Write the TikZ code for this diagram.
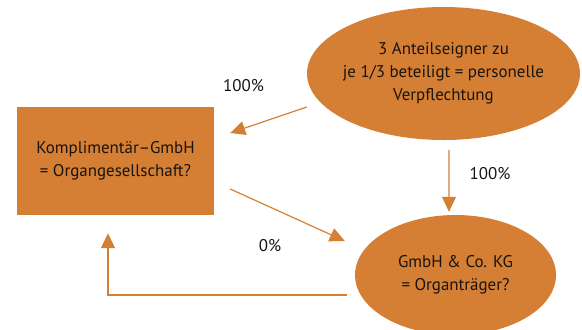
\documentclass[tikz,border=0pt]{standalone}
\usepackage{fontspec}
\setmainfont{PT Sans}
\usetikzlibrary{shapes.geometric,arrows.meta,calc}
\definecolor{org}{RGB}{213,127,53}
\definecolor{txt}{RGB}{25,20,15}
\begin{document}
\begin{tikzpicture}[x=1bp,y=-1bp,
  box/.style={fill=org,draw=none,align=center,text=txt,font=\fontsize{17}{23}\selectfont,inner sep=0pt},
  oval/.style={ellipse,fill=org,draw=none,inner sep=0pt},
  otext/.style={align=center,text=txt,font=\fontsize{17}{23}\selectfont,inner sep=0pt},
  arr/.style={draw=org,line width=1.2bp,-{Triangle[length=15bp,width=14bp]}},
  lbl/.style={text=txt,font=\fontsize{17}{20}\selectfont,inner sep=0pt}]
\useasboundingbox (0,0) rectangle (582,329);
\node[box,minimum width=197bp,minimum height=108bp] (rect) at (115.5,161) {Komplimentär–GmbH\\= Organgesellschaft?};
\node[oval,minimum width=273bp,minimum height=133bp] (top) at (443.5,73.5) {};
\node[otext] (toptext) at (top.center) {3 Anteilseigner zu\\je 1/3 beteiligt = personelle\\Verpflechtung};
\node[oval,minimum width=201bp,minimum height=120bp] (bot) at (455.5,275) {};
\node[otext] (bottext) at (bot.center) {GmbH \& Co. KG\\= Organträger?};
\draw[arr] ($(top.west)+(0,33.5)$) -- ($(rect.east)+(16,-28)$);
\draw[arr] ($(top.south)+(5.5,10)$) -- ($(bot.north)+(-6.5,-3)$);
\draw[arr] ($(rect.east)+(16,28)$) -- ($(bot.west)+(-10,-34)$);
\draw[arr] ($(bot.west)+(-8,20)$) -| ($(rect.south)+(-7.5,18)$);
\node[lbl] (l1) at (243.5,86) {100\%};
\node[lbl] (l2) at (490,174) {100\%};
\node[lbl] (l3) at (270,246) {0\%};
\end{tikzpicture}
\end{document}
